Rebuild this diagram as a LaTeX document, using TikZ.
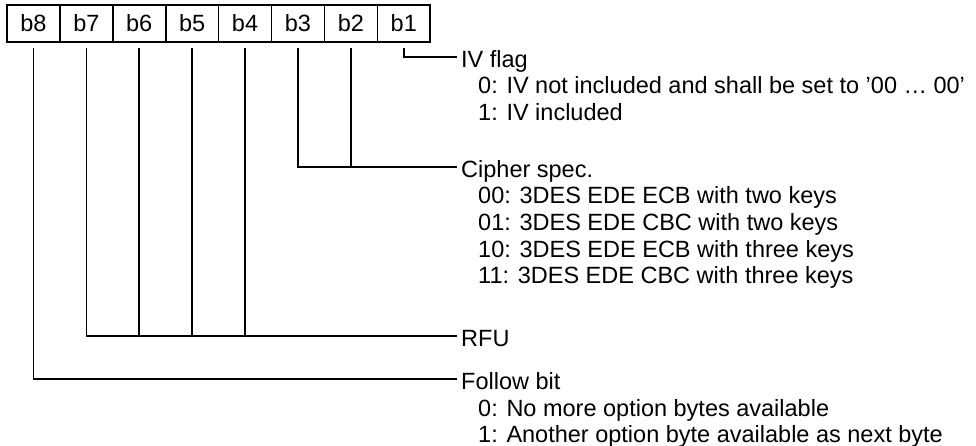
\documentclass[tikz,border=0pt]{standalone}
\usepackage{fontspec}
\setmainfont{Liberation Sans}
\begin{document}
\begin{tikzpicture}[x=1pt,y=1pt,
  every node/.style={font=\fontsize{23.5}{26.5}\selectfont},
  cell/.style={draw,line width=1.6pt,minimum width=52.9pt,minimum height=37pt,inner sep=0pt},
  lbl/.style={anchor=west,inner sep=0pt,text height=21pt,text depth=0pt},
  item/.style={anchor=base west,inner sep=0pt},
  wire/.style={line width=1.6pt},
  ]
\useasboundingbox (0,0) rectangle (976,-446);
% bit cells
\foreach \n [count=\i from 0] in {8,7,6,5,4,3,2,1}{
  \node[cell] (b\n) at ({7+26.45+52.9*\i},-23.5) {b\n};
}
% labels
\node[lbl] (iv) at (461,-57) {IV flag};
\node[item] (iv0) at (478,-94) {0: IV not included and shall be set to ’00 … 00’};
\node[item] (iv1) at (478,-120.5) {1: IV included};
\node[lbl] (cs) at (461,-167) {Cipher spec.};
\node[item] (cs0) at (478,-204) {00: 3DES EDE ECB with two keys};
\node[item] (cs1) at (478,-230.5) {01: 3DES EDE CBC with two keys};
\node[item] (cs2) at (478,-257) {10: 3DES EDE ECB with three keys};
\node[item] (cs3) at (478,-283.5) {11: 3DES EDE CBC with three keys};
\node[lbl] (rfu) at (461,-336) {RFU};
\node[lbl] (fb) at (461,-379) {Follow bit};
\node[item] (fb0) at (478,-416) {0: No more option bytes available};
\node[item] (fb1) at (478,-442.5) {1: Another option byte available as next byte};
% connectors
\draw[wire,shorten >=4pt] ([yshift=-5pt]b1.south) |- (iv.west);
\draw[wire,shorten >=4pt] ([yshift=-5pt]b3.south) |- (cs.west);
\draw[wire] ([yshift=-5pt]b2.south) -- (b2.south |- cs.west);
\draw[wire,shorten >=4pt] ([yshift=-5pt]b7.south) |- (rfu.west);
\draw[wire] ([yshift=-5pt]b6.south) -- (b6.south |- rfu.west);
\draw[wire] ([yshift=-5pt]b5.south) -- (b5.south |- rfu.west);
\draw[wire] ([yshift=-5pt]b4.south) -- (b4.south |- rfu.west);
\draw[wire,shorten >=4pt] ([yshift=-5pt]b8.south) |- (fb.west);
\end{tikzpicture}
\end{document}
